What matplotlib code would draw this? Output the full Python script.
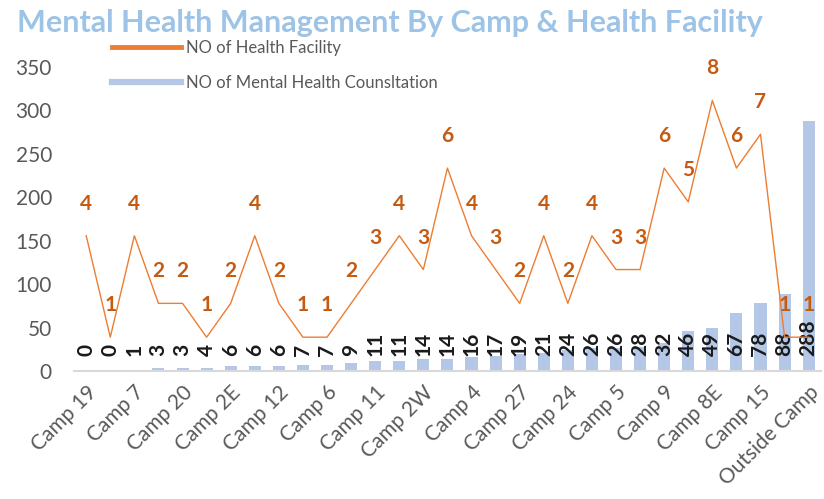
import numpy as np
import matplotlib
matplotlib.use('Agg')
import matplotlib.pyplot as plt
from matplotlib.lines import Line2D

plt.rcParams['font.family'] = ['Lato', 'DejaVu Sans']

# datos
consultas = [0, 0, 1, 3, 3, 4, 6, 6, 6, 7, 7, 9, 11, 11, 14, 14, 16, 17, 19, 21,
             24, 26, 26, 28, 32, 46, 49, 67, 78, 88, 288]
facilidades = [4, 1, 4, 2, 2, 1, 2, 4, 2, 1, 1, 2, 3, 4, 3, 6, 4, 3, 2, 4,
               2, 4, 3, 3, 6, 5, 8, 6, 7, 1, 1]
etiquetas_camp = ['Camp 19', 'Camp 7', 'Camp 20', 'Camp 2E', 'Camp 12', 'Camp 6',
                  'Camp 11', 'Camp 2W', 'Camp 4', 'Camp 27', 'Camp 24', 'Camp 5',
                  'Camp 9', 'Camp 8E', 'Camp 15', 'Outside Camp']
y_ticks = [0, 50, 100, 150, 200, 250, 300, 350]

gris = '#595959'
azul = '#B4C7E7'
naranja = '#ED7D31'
naranja_txt = '#C55A11'

fig = plt.figure(figsize=(8.24, 4.99), dpi=100)
ax = fig.add_axes([0.090, 0.2565, 0.906, 0.610])

x = np.arange(len(consultas))
ax.bar(x, consultas, width=0.5, color=azul, zorder=2)

for i, v in enumerate(consultas):
    ax.text(i, 17, str(v), rotation=90, ha='center', va='bottom',
            fontsize=15, fontweight='bold', color='#1a1a1a', zorder=4)

ax.set_xlim(-0.5, len(consultas) - 0.5)
ax.set_ylim(0, 350)
ax.set_yticks(y_ticks)
ax.set_xticks(x[::2])
ax.set_xticklabels(etiquetas_camp, rotation=45, ha='right', rotation_mode='anchor')
ax.tick_params(axis='both', length=0, labelsize=15, labelcolor=gris)
ax.tick_params(axis='x', pad=8)
ax.tick_params(axis='y', pad=16)
for s in ['top', 'right', 'left']:
    ax.spines[s].set_visible(False)
ax.spines['bottom'].set_color('#D9D9D9')
ax.spines['bottom'].set_linewidth(1.5)

# eje secundario para el numero de facilidades
ax2 = ax.twinx()
ax2.plot(x, facilidades, color=naranja, linewidth=1, zorder=3)
ax2.set_ylim(0, 9)
ax2.axis('off')
for i, v in enumerate(facilidades):
    ax2.annotate(str(v), (i, v), xytext=(0, 23), textcoords='offset points',
                 ha='center', va='center', fontsize=15, fontweight='bold',
                 color=naranja_txt)

fig.text(0.473, 0.953, 'Mental Health Management By Camp & Health Facility',
         ha='center', va='center', fontsize=22, fontweight='bold',
         color='#9DC3E6')

handles = [Line2D([], [], color=naranja, linewidth=3.5),
           Line2D([], [], color=azul, linewidth=4.5)]
fig.legend(handles, ['NO of Health Facility', 'NO of Mental Health Counsltation'],
           loc='upper left', bbox_to_anchor=(0.118, 0.95), frameon=False,
           fontsize=12, labelcolor=gris, handlelength=4.1, handletextpad=0.3,
           labelspacing=1.15)

fig.savefig('out.png', dpi=100)
